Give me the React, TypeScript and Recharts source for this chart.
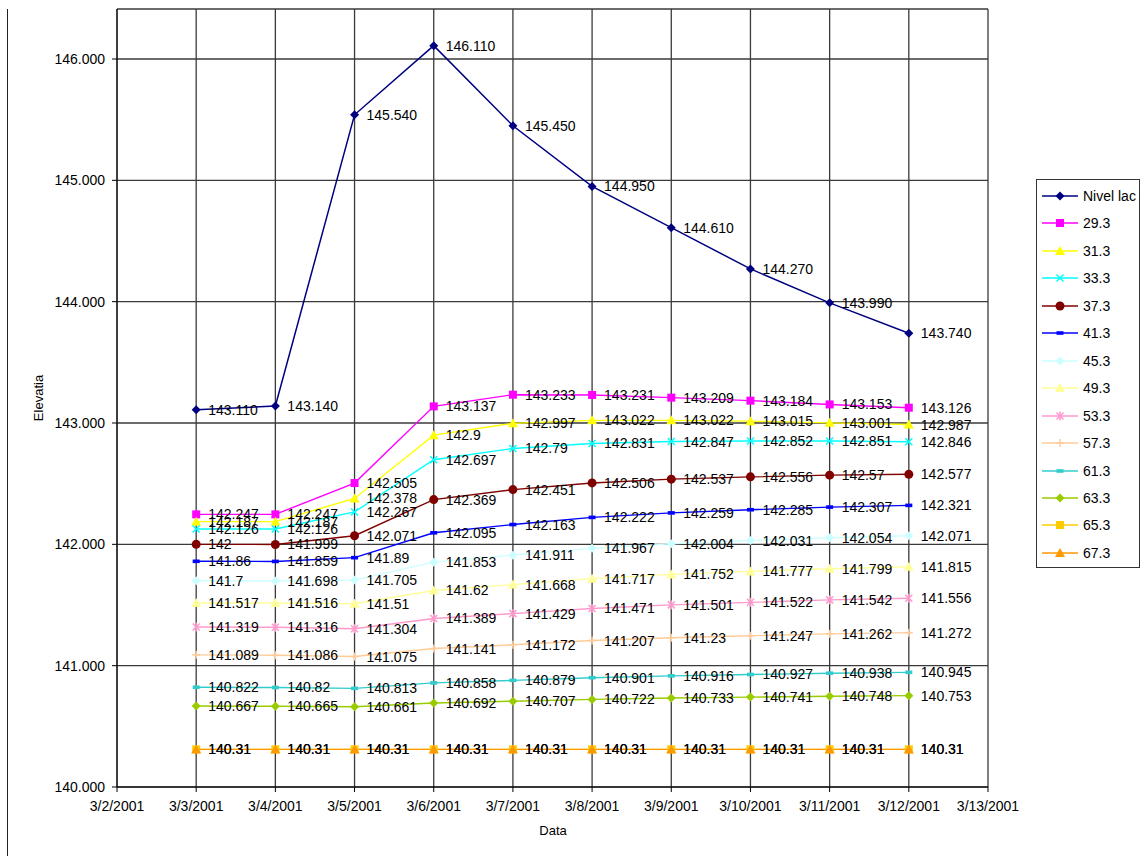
import {
	CartesianGrid,
	LabelList,
	Line,
	LineChart,
	XAxis,
	YAxis,
} from "recharts";

// zilele din martie 2001
const days = [3, 4, 5, 6, 7, 8, 9, 10, 11, 12];
const xTicks = [2, 3, 4, 5, 6, 7, 8, 9, 10, 11, 12, 13];
const yTicks = [140, 141, 142, 143, 144, 145, 146];

const nivelLac = [143.11, 143.14, 145.54, 146.11, 145.45, 144.95, 144.61, 144.27, 143.99, 143.74];
const p293 = [142.247, 142.247, 142.505, 143.137, 143.233, 143.231, 143.209, 143.184, 143.153, 143.126];
const p313 = [142.187, 142.187, 142.378, 142.9, 142.997, 143.022, 143.022, 143.015, 143.001, 142.987];
const p333 = [142.126, 142.126, 142.267, 142.697, 142.79, 142.831, 142.847, 142.852, 142.851, 142.846];
const p373 = [142, 141.999, 142.071, 142.369, 142.451, 142.506, 142.537, 142.556, 142.57, 142.577];
const p413 = [141.86, 141.859, 141.89, 142.095, 142.163, 142.222, 142.259, 142.285, 142.307, 142.321];
const p453 = [141.7, 141.698, 141.705, 141.853, 141.911, 141.967, 142.004, 142.031, 142.054, 142.071];
const p493 = [141.517, 141.516, 141.51, 141.62, 141.668, 141.717, 141.752, 141.777, 141.799, 141.815];
const p533 = [141.319, 141.316, 141.304, 141.389, 141.429, 141.471, 141.501, 141.522, 141.542, 141.556];
const p573 = [141.089, 141.086, 141.075, 141.141, 141.172, 141.207, 141.23, 141.247, 141.262, 141.272];
const p613 = [140.822, 140.82, 140.813, 140.858, 140.879, 140.901, 140.916, 140.927, 140.938, 140.945];
const p633 = [140.667, 140.665, 140.661, 140.692, 140.707, 140.722, 140.733, 140.741, 140.748, 140.753];
const p653 = [140.31, 140.31, 140.31, 140.31, 140.31, 140.31, 140.31, 140.31, 140.31, 140.31];
const p673 = [140.31, 140.31, 140.31, 140.31, 140.31, 140.31, 140.31, 140.31, 140.31, 140.31];

const series = [
	{ key: "nivel", name: "Nivel lac", values: nivelLac, color: "#000080", marker: "diamond", fixed: true },
	{ key: "p293", name: "29.3", values: p293, color: "#FF00FF", marker: "square" },
	{ key: "p313", name: "31.3", values: p313, color: "#FFFF00", marker: "triangle" },
	{ key: "p333", name: "33.3", values: p333, color: "#00FFFF", marker: "x" },
	{ key: "p373", name: "37.3", values: p373, color: "#800000", marker: "circle" },
	{ key: "p413", name: "41.3", values: p413, color: "#0000FF", marker: "dash" },
	{ key: "p453", name: "45.3", values: p453, color: "#CCFFFF", marker: "diamond" },
	{ key: "p493", name: "49.3", values: p493, color: "#FFFF99", marker: "triangle" },
	{ key: "p533", name: "53.3", values: p533, color: "#FF99CC", marker: "star" },
	{ key: "p573", name: "57.3", values: p573, color: "#FFCC99", marker: "plus" },
	{ key: "p613", name: "61.3", values: p613, color: "#33CCCC", marker: "dash" },
	{ key: "p633", name: "63.3", values: p633, color: "#99CC00", marker: "diamond" },
	{ key: "p653", name: "65.3", values: p653, color: "#FFCC00", marker: "square" },
	{ key: "p673", name: "67.3", values: p673, color: "#FF9900", marker: "triangle" },
];

const data = days.map((d, i) => {
	const row: Record<string, number> = { day: d };
	series.forEach((s) => {
		row[s.key] = s.values[i];
	});
	return row;
});

const FONT = "Arial, 'Liberation Sans', sans-serif";

function Marker({ shape, cx, cy, color }: { shape: string; cx: number; cy: number; color: string }) {
	switch (shape) {
		case "diamond":
			return (
				<polygon
					points={`${cx},${cy - 4.5} ${cx + 4.5},${cy} ${cx},${cy + 4.5} ${cx - 4.5},${cy}`}
					fill={color}
				/>
			);
		case "square":
			return <rect x={cx - 4} y={cy - 4} width={8} height={8} fill={color} />;
		case "triangle":
			return (
				<polygon
					points={`${cx},${cy - 5} ${cx + 5},${cy + 4} ${cx - 5},${cy + 4}`}
					fill={color}
				/>
			);
		case "circle":
			return <circle cx={cx} cy={cy} r={4.5} fill={color} />;
		case "dash":
			return <rect x={cx - 3.5} y={cy - 1.8} width={7} height={3.6} fill={color} />;
		case "x":
			return (
				<g stroke={color} strokeWidth={1.5}>
					<line x1={cx - 3.5} y1={cy - 3.5} x2={cx + 3.5} y2={cy + 3.5} />
					<line x1={cx - 3.5} y1={cy + 3.5} x2={cx + 3.5} y2={cy - 3.5} />
				</g>
			);
		case "star":
			return (
				<g stroke={color} strokeWidth={1.5}>
					<line x1={cx - 3.5} y1={cy - 3.5} x2={cx + 3.5} y2={cy + 3.5} />
					<line x1={cx - 3.5} y1={cy + 3.5} x2={cx + 3.5} y2={cy - 3.5} />
					<line x1={cx} y1={cy - 4.5} x2={cx} y2={cy + 4.5} />
				</g>
			);
		case "plus":
			return (
				<g stroke={color} strokeWidth={1.5}>
					<line x1={cx - 4} y1={cy} x2={cx + 4} y2={cy} />
					<line x1={cx} y1={cy - 4} x2={cx} y2={cy + 4} />
				</g>
			);
		default:
			return null;
	}
}

function LegendBox() {
	return (
		<div
			style={{
				position: "absolute",
				left: 1036,
				top: 179,
				width: 104,
				height: 389,
				border: "1.5px solid #333",
				background: "#fff",
				boxSizing: "border-box",
				fontFamily: FONT,
				fontSize: 14,
			}}
		>
			{series.map((s, i) => (
				<div
					key={s.key}
					style={{
						position: "absolute",
						left: 4,
						top: 7 + i * 27.45,
						height: 18,
						display: "flex",
						alignItems: "center",
						whiteSpace: "nowrap",
					}}
				>
					<svg width={38} height={18}>
						<line x1={1} y1={9} x2={37} y2={9} stroke={s.color} strokeWidth={1.5} />
						<Marker shape={s.marker} cx={19} cy={9} color={s.color} />
					</svg>
					<span style={{ marginLeft: 4, color: "#000" }}>{s.name}</span>
				</div>
			))}
		</div>
	);
}

export default function App() {
	return (
		<div
			style={{
				position: "absolute",
				left: 0,
				top: 0,
				width: 1141,
				height: 856,
				background: "#fff",
				fontFamily: FONT,
			}}
		>
			<div
				style={{
					position: "absolute",
					left: 7,
					top: 9,
					width: 0,
					height: 847,
					borderLeft: "1.5px solid #222",
				}}
			/>
			<LineChart
				width={1141}
				height={856}
				data={data}
				margin={{ top: 9, right: 153, bottom: 39, left: 0 }}
				style={{ position: "absolute", left: 0, top: 0 }}
			>
				<CartesianGrid stroke="#3a3a3a" strokeWidth={1.3} />
				<XAxis
					dataKey="day"
					type="number"
					domain={[2, 13]}
					ticks={xTicks}
					tickFormatter={(d: number) => `3/${d}/2001`}
					height={30}
					tickSize={5}
					tickMargin={9}
					interval={0}
					stroke="#000"
					tick={{ fill: "#000", fontSize: 14, fontFamily: FONT }}
				/>
				<YAxis
					type="number"
					domain={[140, 146.412]}
					ticks={yTicks}
					allowDataOverflow
					tickFormatter={(v: number) => v.toFixed(3)}
					width={117}
					tickSize={5}
					tickMargin={7}
					interval={0}
					stroke="#000"
					tick={{ fill: "#000", fontSize: 14, fontFamily: FONT }}
				/>
				{series.map((s) => (
					<Line
						key={s.key}
						dataKey={s.key}
						name={s.name}
						type="linear"
						stroke={s.color}
						strokeWidth={s.key === "nivel" ? 1.5 : 1.4}
						isAnimationActive={false}
						dot={(p: any) => (
							<Marker
								key={`${s.key}-${p.index}`}
								shape={s.marker}
								cx={p.cx}
								cy={p.cy}
								color={s.color}
							/>
						)}
						activeDot={false}
					>
						<LabelList
							dataKey={s.key}
							position="right"
							offset={12}
							fill="#000"
							fontSize={14}
							fontFamily={FONT}
							formatter={(v: any) => (s.fixed ? Number(v).toFixed(3) : String(v))}
						/>
					</Line>
				))}
			</LineChart>
			<LegendBox />
			<div
				style={{
					position: "absolute",
					left: 38,
					top: 398,
					transform: "translate(-50%, -50%) rotate(-90deg)",
					fontSize: 13,
					color: "#000",
					whiteSpace: "nowrap",
				}}
			>
				Elevatia
			</div>
			<div
				style={{
					position: "absolute",
					left: 553,
					top: 830,
					transform: "translate(-50%, -50%)",
					fontSize: 13,
					color: "#000",
				}}
			>
				Data
			</div>
		</div>
	);
}
